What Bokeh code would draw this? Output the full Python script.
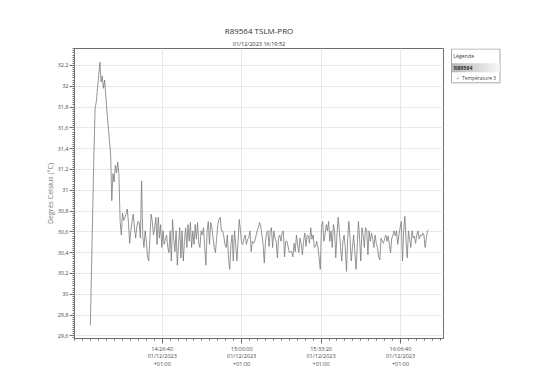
import numpy as np
import pandas as pd
from bokeh.plotting import figure
from bokeh.models import FixedTicker, Title, Range1d
from bokeh.layouts import row
from bokeh.embed import file_html
from bokeh.resources import INLINE
from bokeh.core.properties import value

# ---------------- data ----------------
title_text = "R89564 TSLM-PRO"
subtitle_text = "01/12/2023 16:19:52"
y_label = "Degrés Celsius (°C)"
legend_title = "Légende"
device_name = "R89564"
series_name = "Température 3"

start_time = "2023-12-01 13:56:30"
interval = "30s"

temperature = [
    29.70, 30.25, 30.81, 31.34, 31.79, 31.85, 31.98, 32.10, 32.23, 32.04,
    32.10, 31.98, 32.06, 31.90, 31.75, 31.62, 31.48, 31.35, 30.90, 31.16,
    31.08, 31.24, 31.17, 31.27, 31.15, 30.70, 30.57, 30.78, 30.71, 30.74,
    30.77, 30.82, 30.69, 30.49, 30.61, 30.70, 30.77, 30.64, 30.54, 30.65,
    30.70, 30.69, 30.54, 31.09, 30.56, 30.45, 30.61, 30.51, 30.36, 30.32,
    30.54, 30.77, 30.70, 30.57, 30.64, 30.74, 30.48, 30.74, 30.54, 30.67,
    30.45, 30.61, 30.48, 30.53, 30.57, 30.45, 30.40, 30.61, 30.32, 30.72,
    30.53, 30.41, 30.61, 30.28, 30.48, 30.64, 30.35, 30.61, 30.32, 30.51,
    30.64, 30.45, 30.67, 30.51, 30.69, 30.45, 30.61, 30.48, 30.67, 30.53,
    30.69, 30.49, 30.45, 30.61, 30.57, 30.64, 30.45, 30.28, 30.61, 30.70,
    30.48, 30.69, 30.64, 30.54, 30.45, 30.40, 30.54, 30.67, 30.72, 30.74,
    30.61, 30.61, 30.56, 30.48, 30.45, 30.57, 30.35, 30.24, 30.48, 30.57,
    30.32, 30.61, 30.48, 30.32, 30.51, 30.72, 30.61, 30.49, 30.48, 30.54,
    30.57, 30.48, 30.53, 30.54, 30.61, 30.41, 30.51, 30.49, 30.51, 30.56,
    30.61, 30.64, 30.69, 30.66, 30.57, 30.48, 30.30, 30.51, 30.59, 30.61,
    30.46, 30.61, 30.64, 30.45, 30.61, 30.54, 30.51, 30.35, 30.54, 30.57,
    30.51, 30.59, 30.61, 30.36, 30.51, 30.51, 30.46, 30.40, 30.41, 30.41,
    30.36, 30.49, 30.41, 30.57, 30.48, 30.40, 30.54, 30.48, 30.38, 30.51,
    30.59, 30.46, 30.57, 30.56, 30.49, 30.64, 30.53, 30.57, 30.45, 30.46,
    30.51, 30.45, 30.36, 30.24, 30.64, 30.70, 30.51, 30.57, 30.67, 30.61,
    30.70, 30.51, 30.61, 30.45, 30.67, 30.61, 30.35, 30.57, 30.74, 30.61,
    30.45, 30.32, 30.51, 30.57, 30.45, 30.22, 30.54, 30.70, 30.54, 30.32,
    30.45, 30.57, 30.41, 30.24, 30.45, 30.70, 30.54, 30.32, 30.64, 30.57,
    30.45, 30.64, 30.61, 30.38, 30.61, 30.51, 30.59, 30.53, 30.45, 30.57,
    30.49, 30.45, 30.36, 30.33, 30.54, 30.51, 30.49, 30.53, 30.57, 30.51,
    30.56, 30.48, 30.40, 30.54, 30.57, 30.61, 30.56, 30.61, 30.48, 30.57,
    30.64, 30.70, 30.32, 30.61, 30.75, 30.51, 30.35, 30.61, 30.53, 30.45,
    30.61, 30.54, 30.56, 30.49, 30.57, 30.61, 30.53, 30.57, 30.56, 30.59,
    30.57, 30.45, 30.54, 30.61, 30.62,
]

x_tick_times = ["2023-12-01 14:26:40", "2023-12-01 15:00:00",
                "2023-12-01 15:33:20", "2023-12-01 16:06:40"]
x_tick_labels = ["14:26:40\n01/12/2023\n+01:00", "15:00:00\n01/12/2023\n+01:00",
                 "15:33:20\n01/12/2023\n+01:00", "16:06:40\n01/12/2023\n+01:00"]

y_ticks = [29.6, 29.8, 30.0, 30.2, 30.4, 30.6, 30.8, 31.0, 31.2, 31.4,
           31.6, 31.8, 32.0, 32.2]
y_tick_labels = ["29,6", "29,8", "30", "30,2", "30,4", "30,6", "30,8", "31",
                 "31,2", "31,4", "31,6", "31,8", "32", "32,2"]

x_view = ("2023-12-01 13:49:51", "2023-12-01 16:24:43")
y_view = (29.575, 32.363)

# ---------------- build ----------------
times = pd.date_range(start_time, periods=len(temperature), freq=interval)

def ms(t):
    return pd.Timestamp(t).value / 1e6

FONT = "Open Sans"
AX = "#6e6e6e"
H = 382
W1 = 446
W2 = 97
TOP, BOT = 48, 338

p = figure(width=W1, height=H, x_axis_type="datetime",
           x_range=Range1d(pd.Timestamp(x_view[0]), pd.Timestamp(x_view[1])),
           y_range=Range1d(*y_view),
           output_backend="svg", toolbar_location=None,
           min_border_left=74, min_border_right=W1 - 443,
           min_border_top=TOP, min_border_bottom=H - BOT)

p.add_layout(Title(text=subtitle_text, align="center", text_font=FONT,
                   text_font_size="5.5px", text_font_style="normal",
                   text_color="#333333", standoff=2), "above")
p.add_layout(Title(text=title_text, align="center", text_font=FONT,
                   text_font_size="8px", text_font_style="normal",
                   text_color="#333333", standoff=1), "above")

p.line(times, temperature, line_color="#7a7a7a", line_width=0.8)

x_major = [ms(t) for t in x_tick_times]
x_minor = list(np.arange(x_major[0] - 12 * 200000, ms(x_view[1]), 200000.0))
p.xaxis.ticker = FixedTicker(ticks=x_major, minor_ticks=x_minor)
p.xaxis.major_label_overrides = dict(zip(x_major, x_tick_labels))
p.xaxis.major_label_text_line_height = 0.95

y_minor = list(np.round(np.arange(29.58, 32.37, 0.02), 2))
p.yaxis.ticker = FixedTicker(ticks=y_ticks, minor_ticks=y_minor)
p.yaxis.major_label_overrides = dict(zip(y_ticks, y_tick_labels))

for ax in (p.xaxis[0], p.yaxis[0]):
    ax.axis_line_color = AX
    ax.major_tick_line_color = AX
    ax.minor_tick_line_color = AX
    ax.major_tick_out = 5
    ax.major_tick_in = 0
    ax.minor_tick_out = 2
    ax.minor_tick_in = 0
    ax.major_label_text_font = FONT
    ax.major_label_text_font_size = "5.5px"
    ax.major_label_text_color = "#4a4a4a"
    ax.major_label_standoff = 1

p.yaxis.axis_label = y_label
p.yaxis.axis_label_text_font = FONT
p.yaxis.axis_label_text_font_size = "7px"
p.yaxis.axis_label_text_font_style = "normal"
p.yaxis.axis_label_text_color = "#777777"
p.yaxis.axis_label_standoff = 0

p.xgrid.ticker = FixedTicker(ticks=x_major)
p.ygrid.ticker = FixedTicker(ticks=y_ticks)
p.grid.grid_line_color = "#e8e8e8"
p.grid.grid_line_width = 1
p.outline_line_color = AX
p.outline_line_width = 1
p.background_fill_color = "white"
p.border_fill_color = "white"

# ---------------- legend panel (own figure, page-pixel coordinates) ----------------
leg = figure(width=W2, height=H, x_range=Range1d(W1, W1 + W2), y_range=Range1d(BOT, TOP),
             output_backend="svg", toolbar_location=None,
             x_axis_location=None, y_axis_location=None,
             min_border_left=0, min_border_right=0,
             min_border_top=TOP, min_border_bottom=H - BOT)
leg.grid.visible = False
leg.outline_line_color = None
leg.background_fill_color = "white"
leg.border_fill_color = "white"

leg.quad(left=[451], right=[499.5], top=[48.5], bottom=[82.3],
         fill_color="white", line_color="#a8a8a8", line_width=1)
n = 16
edges = np.linspace(451.5, 499, n + 1)
greys = np.linspace(185, 245, n).astype(int)
leg.quad(left=edges[:-1], right=edges[1:] + 0.3, top=[62.7] * n, bottom=[71.7] * n,
         fill_color=["#%02x%02x%02x" % (g, g, g) for g in greys], line_color=None)
leg.text(x=[452.7], y=[55.2], text=[legend_title], text_font=value(FONT),
         text_font_size="5.3px", text_baseline="middle", text_color="#444444")
leg.text(x=[453.3], y=[67.2], text=[device_name], text_font=value(FONT),
         text_font_size="5.3px", text_font_style="bold", text_baseline="middle",
         text_color="#333333")
leg.text(x=[455.5], y=[77.3], text=["\u2713"], text_font=value("DejaVu Sans"),
         text_font_size="5px", text_baseline="middle", text_color="#888888")
leg.text(x=[461.5], y=[77.3], text=[series_name], text_font=value(FONT),
         text_font_size="4.9px", text_baseline="middle", text_color="#444444")

layout = row(p, leg)
open("out.html", "w").write(file_html(layout, INLINE))
